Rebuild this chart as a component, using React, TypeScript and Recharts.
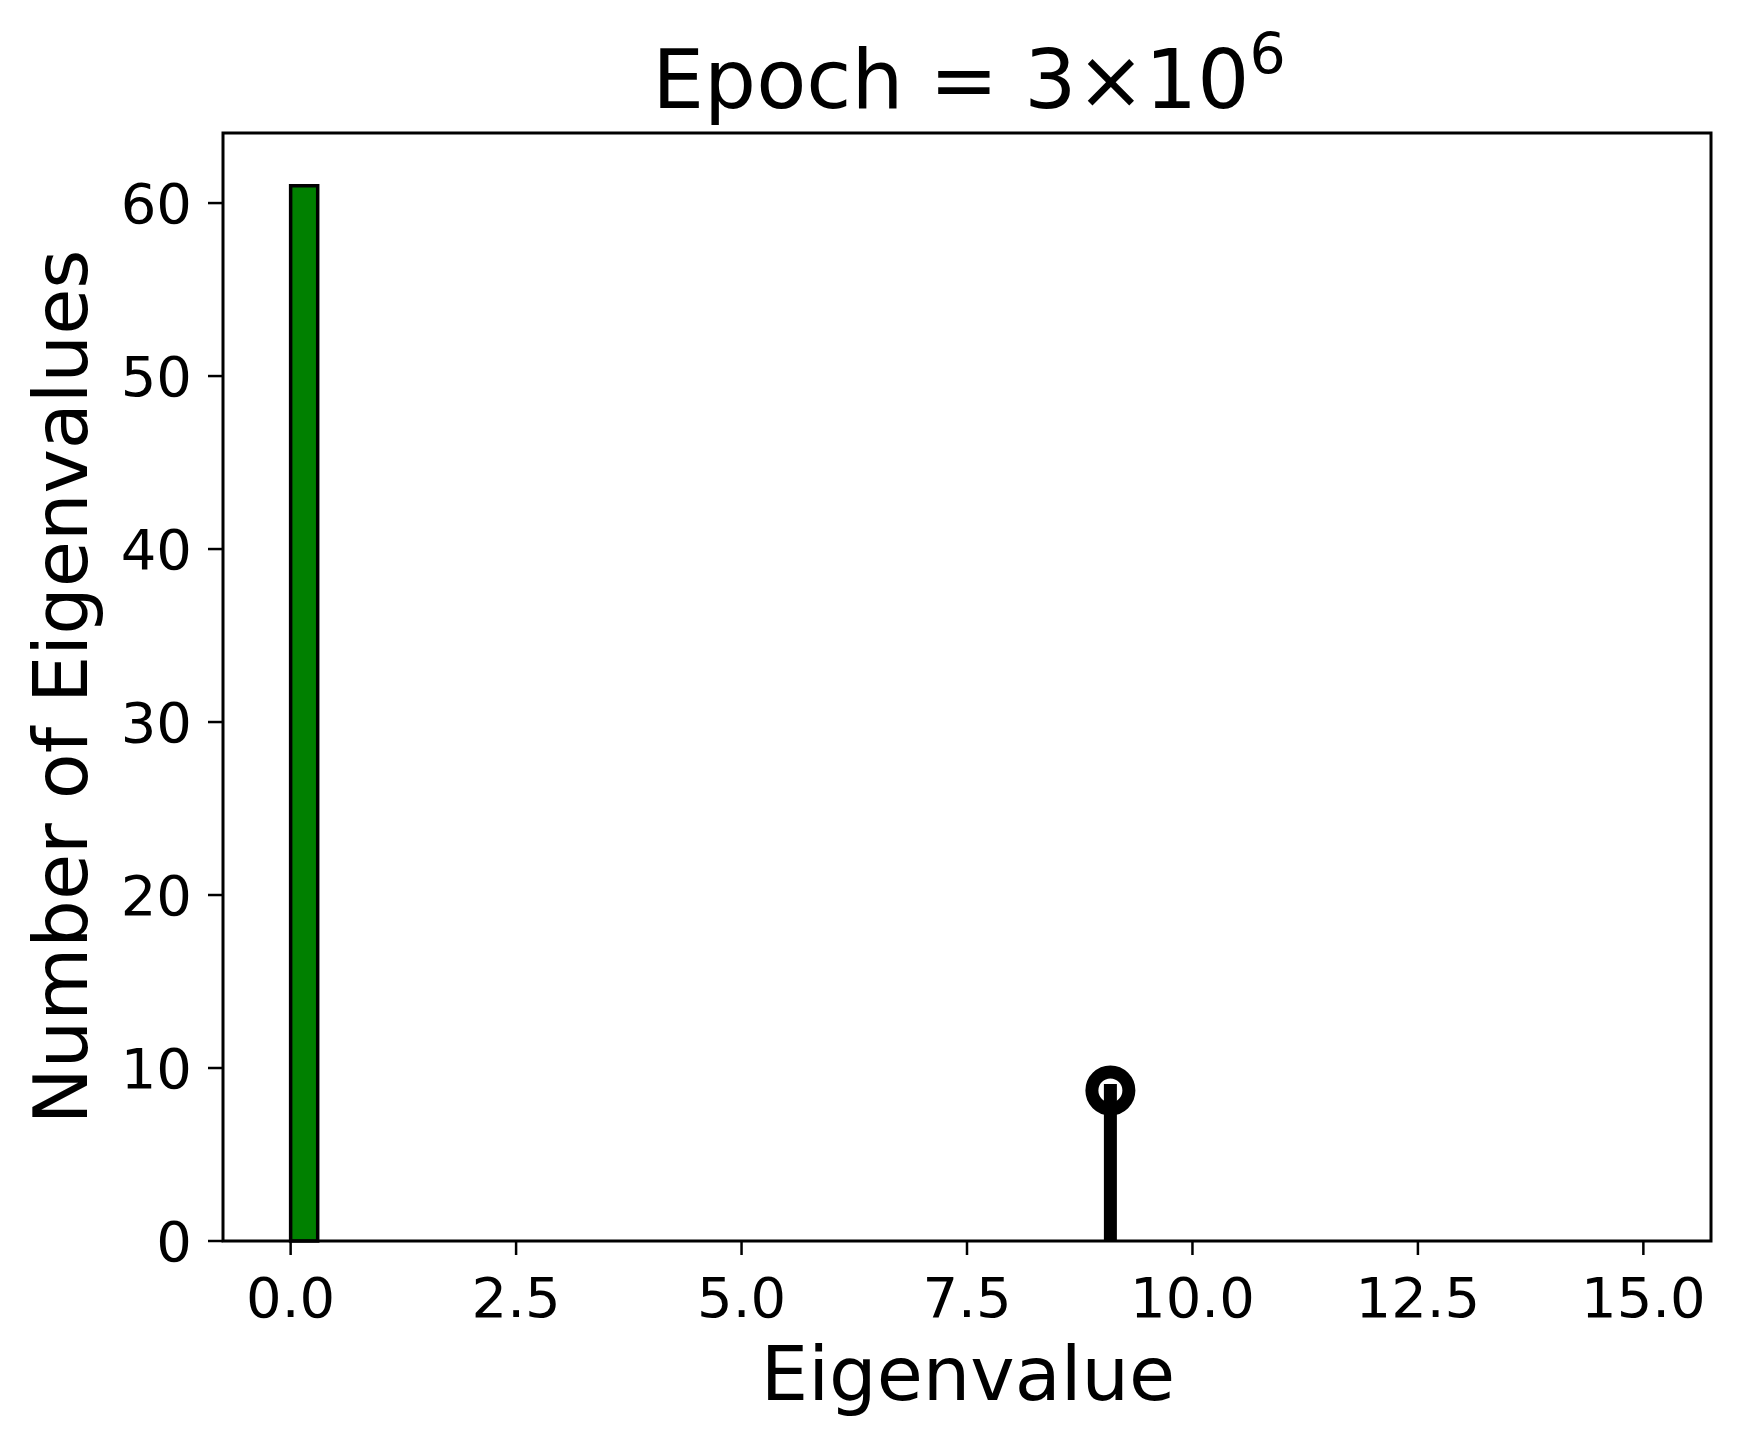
import { ComposedChart, XAxis, YAxis, ReferenceArea, ReferenceLine, Scatter } from 'recharts'

// histogram of eigenvalues (only the non-empty bin is drawn)
const binLefts = [0.0]
const binWidth = 0.3
const binCounts = [61]

// stem marker
const stemX = [9.09]
const stemY = [8.7]

const xTicks = [0, 2.5, 5, 7.5, 10, 12.5, 15]
const yTicks = [0, 10, 20, 30, 40, 50, 60]
const xDomain: [number, number] = [-0.75, 15.75]
const yDomain: [number, number] = [0, 64.05]

const FONT = '"DejaVu Sans", Verdana, sans-serif'

const W = 1741
const H = 1447

function Ring(props: any) {
  const { cx, cy } = props
  if (cx == null || cy == null) return <g />
  return <circle cx={cx} cy={cy} r={18.5} fill="none" stroke="#000" strokeWidth={13} />
}

export default function App() {
  const markerData = stemX.map((x, i) => ({ x, y: stemY[i] }))
  const tickStyle = { fill: '#000', fontSize: 56, fontFamily: FONT }

  return (
    <div style={{ position: 'absolute', left: 0, top: 0, width: W, height: H, background: '#fff' }}>
      <ComposedChart width={W} height={H} margin={{ top: 133, right: 30, bottom: 106, left: 123 }}>
        <XAxis
          type="number"
          dataKey="x"
          domain={xDomain}
          ticks={xTicks}
          interval={0}
          height={100}
          axisLine={false}
          tickLine={{ stroke: '#000', strokeWidth: 2.5 }}
          tickSize={14}
          tickMargin={22}
          tick={tickStyle}
          tickFormatter={(v: number) => v.toFixed(1)}
        />
        <YAxis
          type="number"
          dataKey="y"
          domain={yDomain}
          ticks={yTicks}
          interval={0}
          width={100}
          axisLine={false}
          tickLine={{ stroke: '#000', strokeWidth: 2.5 }}
          tickSize={15}
          tickMargin={16}
          tick={tickStyle}
        />
        {binLefts.map((left, i) => (
          <ReferenceArea
            key={`bin-${i}`}
            x1={left}
            x2={left + binWidth}
            y1={0}
            y2={binCounts[i]}
            fill="#008000"
            fillOpacity={1}
            stroke="#000"
            strokeWidth={3.5}
          />
        ))}
        {stemX.map((x, i) => (
          <ReferenceLine
            key={`stem-${i}`}
            segment={[{ x, y: 0 }, { x, y: stemY[i] }]}
            stroke="#000"
            strokeWidth={13}
            strokeLinecap="square"
            ifOverflow="hidden"
          />
        ))}
        <Scatter data={markerData} dataKey="y" shape={Ring} isAnimationActive={false} />
        <ReferenceArea
          x1={xDomain[0]}
          x2={xDomain[1]}
          y1={yDomain[0]}
          y2={yDomain[1]}
          fill="none"
          stroke="#000"
          strokeWidth={3}
        />
      </ComposedChart>
      <svg width={W} height={H} style={{ position: 'absolute', left: 0, top: 0, pointerEvents: 'none' }}>
        <text x={969} y={108} textAnchor="middle" fontFamily={FONT} fontSize={82} fill="#000">
          Epoch = 3×10
          <tspan dy={-34} fontSize={57}>6</tspan>
        </text>
        <text x={968} y={1400} textAnchor="middle" fontFamily={FONT} fontSize={75} fill="#000">
          Eigenvalue
        </text>
        <text
          x={87}
          y={687}
          textAnchor="middle"
          fontFamily={FONT}
          fontSize={75}
          fill="#000"
          transform="rotate(-90 87 687)"
        >
          Number of Eigenvalues
        </text>
      </svg>
    </div>
  )
}
